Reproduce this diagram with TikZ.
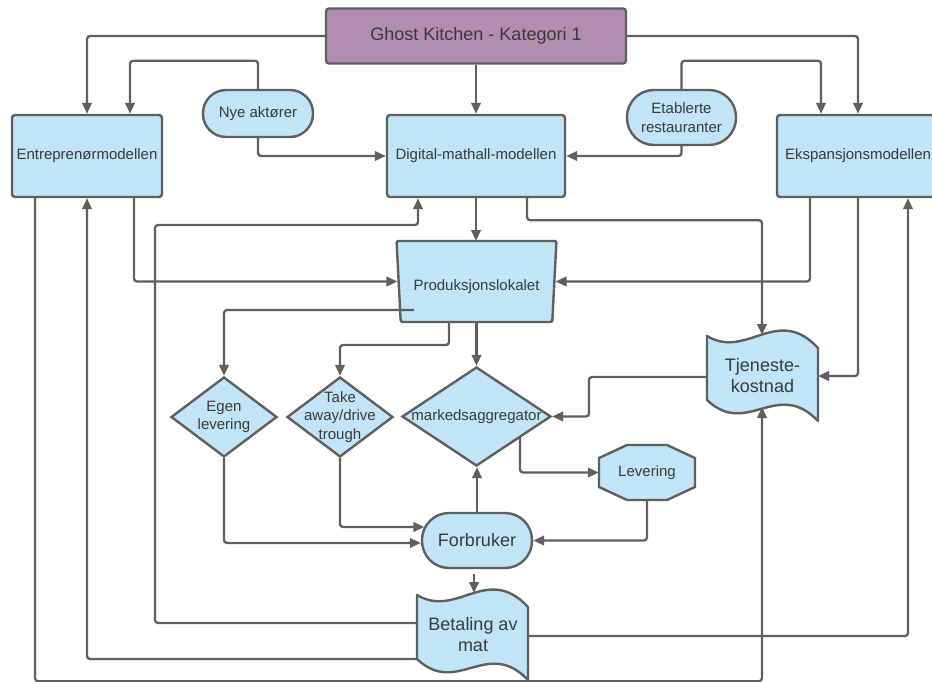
\documentclass[tikz,border=0pt]{standalone}
\usepackage{fontspec}
\setmainfont{Liberation Sans}
\usetikzlibrary{shapes.geometric,arrows.meta,calc}
\definecolor{lblue}{HTML}{C1E4F6}
\definecolor{lpurple}{HTML}{B38CB1}
\definecolor{lgrey}{HTML}{5F5F5F}
\definecolor{txtc}{HTML}{3A3A3A}
\begin{document}
\begin{tikzpicture}[x=1pt,y=-1pt,
  shp/.style={draw=lgrey,line width=2.4pt,fill=lblue},
  box/.style={shp,rounded corners=3pt,inner sep=0pt,text=txtc},
  fa/.style={font=\fontsize{15}{18.5}\selectfont,text=txtc},
  fb/.style={font=\fontsize{18}{21}\selectfont,text=txtc},
  conn/.style={draw=lgrey,line width=2.3pt,rounded corners=3pt,-{Triangle[length=11pt,width=9.5pt]}},
  dia/.style={shp,diamond,inner sep=0pt},
]
\useasboundingbox (0,0) rectangle (932,682);

% wavy (tape) shapes and octagon
\draw[shp,line join=round,shift={(707,336)}] (0,0) .. controls (40,24) and (70,-32) .. (111,12) -- (111,85) .. controls (70,42) and (40,102) .. (0,64) -- cycle;
\draw[shp,line join=round,shift={(417,595)}] (0,0) .. controls (40,24) and (70,-32) .. (111,12) -- (111,85) .. controls (70,42) and (40,102) .. (0,64) -- cycle;
\draw[shp] (627,445) -- (667,445) -- (695,458) -- (695,487) -- (667,500) -- (627,500) -- (599,487) -- (599,458) -- cycle;

% nodes
\node[box,fill=lpurple,minimum width=300pt,minimum height=55pt,fb] (ghost) at (476,36) {Ghost Kitchen - Kategori 1};
\node[box,minimum width=150pt,minimum height=82pt,fa] (entr) at (87,156) {Entreprenørmodellen};
\node[box,minimum width=178pt,minimum height=82pt,fa] (dig) at (476,156) {Digital-mathall-modellen};
\node[box,minimum width=162pt,minimum height=82pt,fa] (eksp) at (858,156) {Ekspansjonsmodellen};
\node[box,rounded corners=23pt,minimum width=110pt,minimum height=47pt,fa] (nye) at (258,113.5) {Nye aktører};
\node[box,rounded corners=27pt,minimum width=109pt,minimum height=55pt,fa,align=center] (etab) at (681.5,117.5) {Etablerte\\restauranter};
\node[shp,trapezium,trapezium stretches=true,shape border rotate=180,trapezium left angle=76,trapezium right angle=76,minimum width=160pt,minimum height=81pt,rounded corners=2pt,inner sep=0pt,fa] (prod) at (476.5,281.5) {\raisebox{-5pt}[\height][\depth]{Produksjonslokalet}};
\node[dia,minimum width=106pt,minimum height=80pt,label={[fa,align=center]center:{Egen\\levering}}] (egen) at (224,417) {};
\node[dia,minimum width=106pt,minimum height=80pt,label={[fa,align=center]center:{Take\\away/drive\\trough}}] (take) at (340,417) {};
\node[dia,minimum width=149pt,minimum height=99pt,label={[fa]center:markedsaggregator}] (mark) at (476.5,416.5) {};
\node[box,rounded corners=27pt,minimum width=110pt,minimum height=55pt,fb] (forb) at (477,540.5) {Forbruker};
\node[fa,minimum width=96pt,minimum height=55pt,inner sep=0pt] (lev) at (647,472.5) {Levering};
\node[fb,align=center] (tjen) at (762.5,376) {Tjeneste-\\kostnad};
\node[fb,align=center] (bet) at (473,635) {Betaling av\\mat};

% connection points on drawn shapes
\coordinate (tjenN) at (762,335);
\coordinate (tjenS) at (762,407);
\coordinate (tjenW) at (707,377);
\coordinate (tjenE) at (818,376);
\coordinate (betN) at (474,593);
\coordinate (betE) at (528,636);
\coordinate (betW1) at (417,623);
\coordinate (betW2) at (417,659);
\coordinate (prodW) at (414,310);
\coordinate (markSE) at (520,437);

% connectors
\draw[conn] (ghost.west) -| (entr.north);
\draw[conn] (ghost.south) -- (ghost.south |- dig.north);
\draw[conn] (ghost.east) -| (eksp.north);
\draw[conn] (nye.north) -- ++(0,-28) -| ($(entr.north)+(43,0)$);
\draw[conn] (nye.south) |- (dig.west);
\draw[conn] (etab.north) -- ++(0,-28) -| ($(eksp.north)+(-37,0)$);
\draw[conn] (etab.south) |- (dig.east);
\draw[conn] (dig.south) -- ($(dig.south |- prod.center)+(0,-40.5)$);
\draw[conn] ($(dig.south)+(51,0)$) -- ++(0,22) -| (tjenN);
\draw[conn] ($(entr.south)+(47,0)$) |- (prod);
\draw[conn] ($(eksp.south)+(-48,0)$) |- (prod);
\draw[conn] (eksp.south) |- (tjenE);
\draw[conn] (betE) -| ($(eksp.south)+(50,0)$);
\draw[conn] (betW2) -| (entr.south);
\draw[conn] (betW1) -| (155,225) -| ($(dig.south)+(-58,0)$);
\draw[conn] ($(entr.south)+(-52,0)$) -- ++(0,483) -| (tjenS);
\draw[conn] (prodW) -| (egen.north);
\draw[conn] ($(prod.center)+(-27.5,40.5)$) -- ++(0,23) -| (take.north);
\draw[conn] ($(prod.center)+(0,40.5)$) -- (mark.north);
\draw[conn] (tjenW) -- ++(-118,0) |- (mark.east);
\draw[conn] (markSE) |- (lev.west);
\draw[conn] (forb.north) -- (forb.north |- mark.south);
\draw[conn] (lev.south) |- (forb.east);
\draw[conn] (egen.south) |- ($(forb.west)+(0,2.5)$);
\draw[conn] (take.south) |- ($(forb.west)+(3.5,-13.5)$);
\draw[conn] ($(forb.south)+(-3,5)$) -- (betN);
\end{tikzpicture}
\end{document}
